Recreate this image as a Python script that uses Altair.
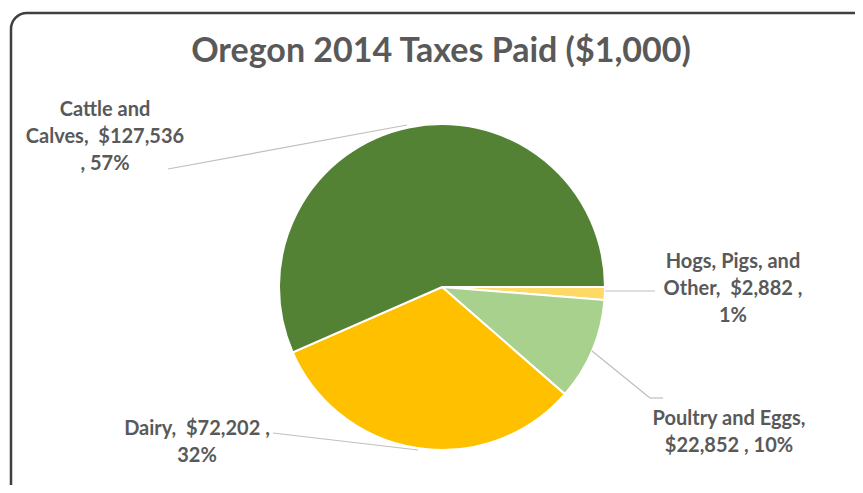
import math
import altair as alt
import pandas as pd

# ---- data ----
categories = ["Hogs, Pigs, and Other", "Poultry and Eggs", "Dairy", "Cattle and Calves"]
values = [2882, 22852, 72202, 127536]
percents = ["1%", "10%", "32%", "57%"]
NB = "\u00a0"
label_texts = [
    f"Hogs, Pigs, and\nOther,{NB}{NB}$2,882{NB},\n1%",
    f"Poultry and Eggs,\n$22,852{NB}, 10%",
    f"Dairy,{NB}{NB}$72,202{NB},\n32%",
    f"Cattle and\nCalves,{NB}{NB}$127,536\n, 57%",
]
colors = ["#FFD966", "#A9D18E", "#FFC000", "#548235"]
title_text = "Oregon 2014 Taxes Paid ($1,000)"

# ---- layout (pixels, chart coordinates) ----
W, H = 847, 477
cx, cy, radius = 434, 279, 163
label_pos = [(725, 260), (721, 417), (189, 427), (97, 108)]
leader_segments = [
    (597, 283, 647, 283),
    (584, 343, 642, 390),
    (642, 390, 655, 390),
    (265, 425, 410, 442),
    (160, 161, 399, 117),
]

pie_df = pd.DataFrame({"category": categories, "value": values,
                       "order": list(range(len(categories)))})
lab_df = pd.DataFrame({"category": categories, "text": label_texts,
                       "px": [p[0] for p in label_pos], "py": [p[1] for p in label_pos]})
seg_df = pd.DataFrame(leader_segments, columns=["x", "y", "x2", "y2"])

frame = alt.Chart(pd.DataFrame({"a": [0]})).mark_rect(
    fill=None, stroke="#3f3f3f", strokeWidth=2.5, cornerRadius=16
).encode(x=alt.value(3), x2=alt.value(880), y=alt.value(5), y2=alt.value(500))

pie = alt.Chart(pie_df).mark_arc(radius=radius, stroke="white", strokeWidth=2).encode(
    theta=alt.Theta("value:Q", stack=True,
                    scale=alt.Scale(range=[math.pi / 2, math.pi / 2 + 2 * math.pi])),
    color=alt.Color("category:N", scale=alt.Scale(domain=categories, range=colors), legend=None),
    order=alt.Order("order:Q"),
    x=alt.value(cx), y=alt.value(cy),
)

leaders = alt.Chart(seg_df).mark_rule(color="#BFBFBF", strokeWidth=1.2).encode(
    x=alt.X("x:Q", scale=None), y=alt.Y("y:Q", scale=None),
    x2="x2:Q", y2="y2:Q",
)

labels = alt.Chart(lab_df).mark_text(
    font="Lato", fontWeight="bold", fontSize=20, color="#595959",
    align="center", baseline="alphabetic", lineBreak="\n", lineHeight=27,
).encode(
    x=alt.X("px:Q", scale=None), y=alt.Y("py:Q", scale=None), text="text:N"
)

title = alt.Chart(pd.DataFrame({"t": [title_text]})).mark_text(
    font="Lato", fontWeight="bold", fontSize=34, color="#595959",
    align="center", baseline="alphabetic",
).encode(x=alt.value(433), y=alt.value(54), text="t:N")

chart = alt.layer(frame, pie, leaders, labels, title).properties(
    width=W, height=H, padding=0, autosize=alt.AutoSizeParams(type="none")
).configure_view(stroke=None)

chart.save("out.html", embed_options={"renderer": "svg", "actions": False})
